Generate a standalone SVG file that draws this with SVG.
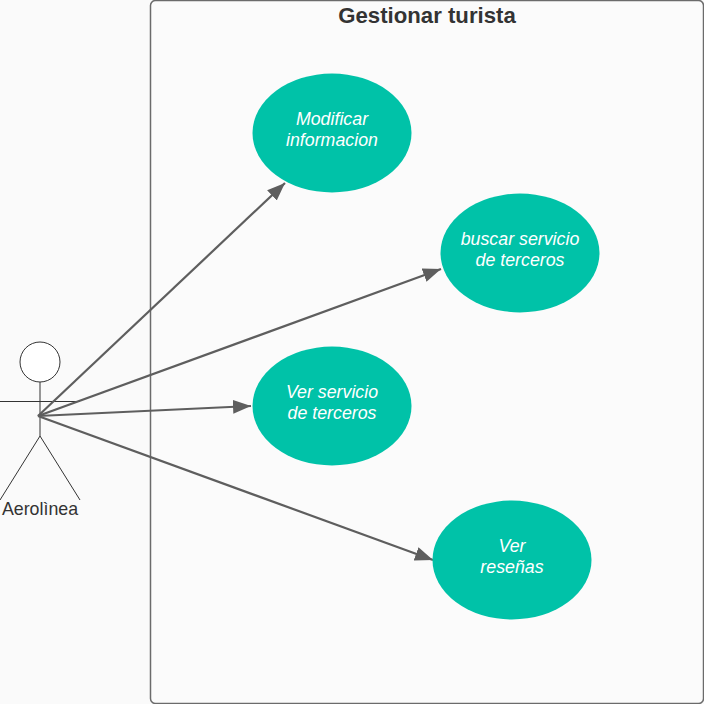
<svg xmlns="http://www.w3.org/2000/svg" width="704" height="704" viewBox="0 0 704 704">
<style>
.uc{fill:#00c2a8}
.t{font-family:"Liberation Sans",Arial,sans-serif;font-size:17.800px;font-style:italic;fill:#fff;text-anchor:middle}
.act{fill:none;stroke:#333;stroke-width:1}
.c{fill:none;stroke:#5e5e5e;stroke-width:2.200;marker-end:url(#a)}
</style>
<defs><marker id="a" markerUnits="userSpaceOnUse" markerWidth="20" markerHeight="16" refX="18" refY="8" orient="auto"><path d="M0 1L18 8L0 15Z" fill="#5e5e5e"/></marker></defs>
<rect width="704" height="704" fill="#fafafa"/>
<g id="system">
<rect x="150.500" y="0.500" width="553" height="703" rx="5" fill="#fbfbfb" stroke="#6b6b6b" stroke-width="1.500"/>
<text x="427" y="23" font-family="'Liberation Sans',Arial,sans-serif" font-size="22.200" font-weight="700" fill="#333" text-anchor="middle">Gestionar turista</text>
</g>
<g id="actor">
<circle cx="40" cy="362" r="20" fill="#fff" stroke="#333"/>
<path class="act" d="M40 382V436M0 401.500H80M0 500L40 436L80 500"/>
<text x="40" y="515" font-family="'Liberation Sans',Arial,sans-serif" font-size="17.800" fill="#333" text-anchor="middle">Aerolìnea</text>
</g>
<g id="connectors">
<path class="c" d="M38 416L285 183"/>
<path class="c" d="M38 416L441 269"/>
<path class="c" d="M38 416L251 406"/>
<path class="c" d="M38 416L433 560"/>
</g>
<g id="uc1"><ellipse class="uc" cx="332" cy="133" rx="79.500" ry="59.500"/><text class="t" x="332" y="124.500">Modificar</text><text class="t" x="332" y="146">informacion</text></g>
<g id="uc2"><ellipse class="uc" cx="520" cy="253" rx="79.500" ry="59.500"/><text class="t" x="520" y="244.500">buscar servicio</text><text class="t" x="520" y="266">de terceros</text></g>
<g id="uc3"><ellipse class="uc" cx="332" cy="406" rx="79.500" ry="59.500"/><text class="t" x="332" y="397.500">Ver servicio</text><text class="t" x="332" y="419">de terceros</text></g>
<g id="uc4"><ellipse class="uc" cx="512" cy="560" rx="79.500" ry="59.500"/><text class="t" x="512" y="551.500">Ver</text><text class="t" x="512" y="573">reseñas</text></g>
</svg>
